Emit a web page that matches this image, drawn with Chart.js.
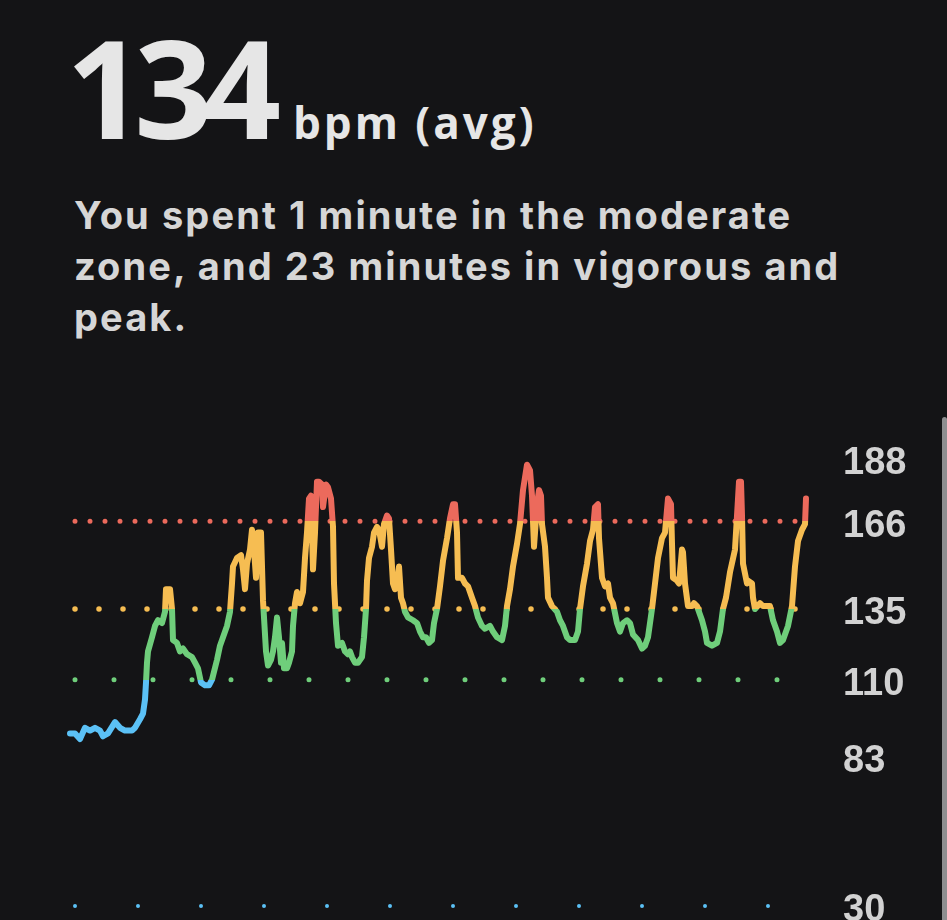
<!DOCTYPE html>
<html>
<head>
<meta charset="utf-8">
<script src="https://cdn.jsdelivr.net/npm/chart.js@4.4.1/dist/chart.umd.min.js"></script>
<style>
    html, body {
        margin: 0;
        padding: 0;
        width: 947px;
        height: 920px;
        overflow: hidden;
        background: #141416;
    }
    .head {
        position: absolute;
        left: 66px;
        top: 18px;
        display: flex;
        align-items: baseline;
        color: #e6e6e6;
        font-family: "Open Sans", sans-serif;
        font-weight: 700;
        white-space: nowrap;
    }
    .big {
        font-size: 137px;
        line-height: 1;
        letter-spacing: -10px;
    }
    .unit {
        font-size: 44px;
        margin-left: 22px;
        letter-spacing: 3px;
    }
    .summary {
        position: absolute;
        left: 74px;
        top: 190px;
        margin: 0;
        color: #d6d6d6;
        font-family: Inter, sans-serif;
        font-weight: 700;
        font-size: 38px;
        line-height: 51px;
        letter-spacing: 2.1px;
        white-space: nowrap;
    }
    #hrChart {
        position: absolute;
        left: 0;
        top: 400px;
    }
    .scroller {
        position: absolute;
        left: 942px;
        top: 417px;
        width: 5px;
        height: 520px;
        border-radius: 3px;
        background: #8e8e90;
    }
</style>
</head>
<body>

<div class="head"><span class="big">134</span><span class="unit">bpm (avg)</span></div>
<p class="summary">You spent 1 minute in the moderate<br>zone, and 23 minutes in vigorous and<br>peak.</p>

<canvas id="hrChart" width="947" height="540"></canvas>
<div class="scroller"></div>

<script>
// Heart rate samples: elapsed seconds and bpm
const elapsedSec = [
    0, 15, 30, 45, 60, 75, 90, 99, 114, 135, 150, 165, 186, 195, 210, 219, 225, 228, 231, 234,
    246, 255, 264, 276, 285, 288, 300, 306, 309, 321, 330, 339, 351, 366, 375, 384, 393, 405, 417, 426,
    441, 450, 462, 471, 480, 486, 489, 501, 513, 519, 525, 531, 540, 546, 552, 558, 564, 573, 579, 588,
    594, 603, 609, 615, 621, 627, 633, 636, 642, 651, 657, 666, 669, 675, 681, 690, 699, 705, 711, 717,
    723, 729, 735, 741, 747, 756, 759, 768, 774, 783, 789, 792, 798, 804, 816, 825, 834, 840, 846, 855,
    864, 876, 882, 888, 891, 897, 906, 912, 921, 927, 936, 942, 951, 957, 963, 969, 975, 981, 987, 993,
    999, 1005, 1014, 1029, 1041, 1050, 1059, 1068, 1077, 1086, 1092, 1101, 1110, 1119, 1131, 1140, 1149, 1155, 1161, 1164,
    1176, 1185, 1194, 1206, 1215, 1224, 1236, 1245, 1260, 1269, 1281, 1296, 1305, 1311, 1320, 1329, 1341, 1350, 1359, 1371,
    1380, 1386, 1392, 1401, 1407, 1413, 1416, 1425, 1431, 1434, 1446, 1461, 1470, 1479, 1491, 1500, 1515, 1524, 1530, 1539,
    1551, 1560, 1569, 1575, 1584, 1587, 1596, 1605, 1614, 1620, 1629, 1641, 1650, 1659, 1671, 1680, 1689, 1704, 1716, 1725,
    1734, 1746, 1755, 1764, 1776, 1785, 1794, 1803, 1806, 1809, 1821, 1827, 1836, 1839, 1845, 1854, 1866, 1872, 1881, 1884,
    1896, 1905, 1911, 1926, 1941, 1950, 1959, 1968, 1980, 1995, 2001, 2007, 2013, 2016, 2019, 2031, 2034, 2046, 2049, 2055,
    2070, 2079, 2091, 2100, 2109, 2121, 2130, 2139, 2154, 2166, 2175, 2184, 2196, 2205, 2208
];
const heartRate = [
    91, 91, 89, 93, 92, 93, 92, 90, 91, 95, 93, 92, 92, 93, 96, 98, 103, 109, 116, 120,
    125, 129, 131, 130, 134, 142, 142, 135, 124, 123, 120, 121, 119, 118, 116, 114, 109, 108, 108, 110,
    117, 122, 126, 129, 134, 144, 150, 153, 154, 149, 142, 151, 156, 163, 156, 146, 162, 162, 138, 120,
    115, 117, 120, 125, 132, 125, 116, 123, 114, 114, 116, 120, 129, 137, 141, 137, 141, 153, 162, 174,
    175, 149, 162, 180, 180, 179, 171, 179, 178, 174, 164, 144, 130, 122, 123, 120, 119, 120, 118, 116,
    116, 118, 125, 135, 145, 153, 157, 162, 164, 163, 157, 165, 168, 167, 156, 144, 142, 144, 150, 139,
    137, 134, 132, 131, 130, 127, 125, 125, 123, 124, 130, 135, 143, 152, 160, 167, 172, 172, 162, 146,
    146, 144, 143, 139, 136, 132, 129, 128, 129, 127, 125, 124, 129, 136, 142, 150, 158, 165, 177, 186,
    184, 175, 157, 172, 177, 175, 165, 157, 146, 139, 136, 134, 131, 129, 125, 124, 124, 127, 135, 143,
    151, 159, 163, 171, 172, 160, 146, 143, 144, 139, 137, 130, 127, 130, 131, 130, 126, 124, 121, 122,
    125, 135, 144, 153, 160, 162, 174, 172, 158, 146, 145, 144, 156, 155, 144, 136, 136, 137, 136, 135,
    131, 127, 123, 122, 123, 127, 135, 139, 148, 156, 168, 180, 180, 168, 151, 144, 145, 144, 139, 135,
    137, 136, 136, 136, 131, 127, 123, 124, 129, 136, 150, 159, 163, 165, 174
];

// Zone limits (bpm) drawn as dotted guides, and the right-hand tick labels
const zoneLimits = [166, 135, 110, 30];
const axisTicks = [188, 166, 135, 110, 83, 30];

const zoneColors = {
    peak: '#ec6a5c',
    vigorous: '#f6bd52',
    moderate: '#6fce7b',
    light: '#5bc1f6'
};
const guideStyles = [
    { color: zoneColors.peak, gap: 15, width: 5 },
    { color: zoneColors.vigorous, gap: 24, width: 5.5 },
    { color: zoneColors.moderate, gap: 39, width: 5 },
    { color: zoneColors.light, gap: 63, width: 4 }
];

// Hard colour bands so the line changes colour exactly at each zone limit
function zoneGradient(context) {
    const chart = context.chart;
    const area = chart.chartArea;
    if (!area) return zoneColors.moderate;
    const y = chart.scales.y;
    const top = area.top - 10;
    const bottom = area.bottom + 10;
    const g = chart.ctx.createLinearGradient(0, top, 0, bottom);
    const stop = v => (y.getPixelForValue(v) - top) / (bottom - top);
    const bands = [
        [0, stop(zoneLimits[0]), zoneColors.peak],
        [stop(zoneLimits[0]), stop(zoneLimits[1]), zoneColors.vigorous],
        [stop(zoneLimits[1]), stop(zoneLimits[2]), zoneColors.moderate],
        [stop(zoneLimits[2]), 1, zoneColors.light]
    ];
    bands.forEach(b => {
        g.addColorStop(b[0], b[2]);
        g.addColorStop(b[1], b[2]);
    });
    return g;
}

const hrPoints = elapsedSec.map((t, i) => ({ x: t, y: heartRate[i] }));
const guideStart = elapsedSec[0] + 15;
const guideEnd = elapsedSec[elapsedSec.length - 1] - 18;

const guideSets = zoneLimits.map((v, i) => ({
    data: [{ x: guideStart, y: v }, { x: guideEnd, y: v }],
    borderColor: guideStyles[i].color,
    borderWidth: guideStyles[i].width,
    borderDash: [0, guideStyles[i].gap],
    borderCapStyle: 'round',
    pointRadius: 0,
    clip: false
}));

new Chart(document.getElementById('hrChart'), {
    type: 'line',
    data: {
        datasets: [{
            data: hrPoints,
            borderColor: zoneGradient,
            borderWidth: 6,
            borderJoinStyle: 'round',
            borderCapStyle: 'round',
            pointRadius: 0,
            tension: 0,
            clip: false
        }].concat(guideSets)
    },
    options: {
        responsive: false,
        animation: false,
        devicePixelRatio: 1,
        layout: {
            padding: { left: 70, right: 0, top: 59, bottom: 34 }
        },
        plugins: {
            legend: { display: false },
            tooltip: { enabled: false }
        },
        scales: {
            x: {
                type: 'linear',
                display: false,
                min: elapsedSec[0],
                max: elapsedSec[elapsedSec.length - 1]
            },
            y: {
                position: 'right',
                min: 30,
                max: 188,
                grid: { display: false, drawTicks: false },
                border: { display: false },
                afterBuildTicks: function(scale) {
                    scale.ticks = axisTicks.map(v => ({ value: v }));
                },
                afterFit: function(scale) {
                    // labels may hang past the plot; the layout padding already leaves room
                    scale.width = 141;
                    scale.paddingTop = 0;
                    scale.paddingBottom = 0;
                },
                ticks: {
                    padding: 37,
                    labelOffset: 5,
                    color: '#d2d2d2',
                    font: { family: '"Liberation Sans", Arial, sans-serif', size: 38, weight: 'bold' }
                }
            }
        }
    }
});
</script>
</body>
</html>
